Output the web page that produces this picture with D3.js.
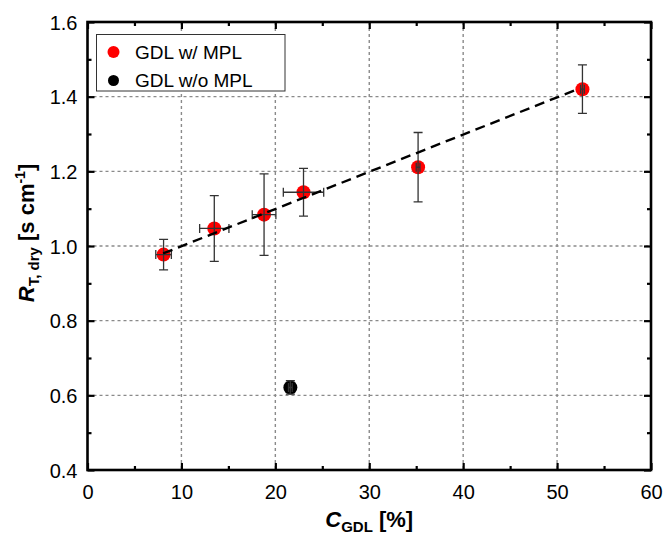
<!DOCTYPE html>
<html>
<head>
<meta charset="utf-8">
<script src="https://cdn.jsdelivr.net/npm/d3@7"></script>
<style>
  html, body { margin: 0; padding: 0; background: #fff; }
  svg { display: block; font-family: "Liberation Sans", Arial, sans-serif; }
</style>
</head>
<body>
<svg id="chart" width="665" height="534"></svg>
<script>
// measured values, GDL with MPL
const withX = [8.1, 13.5, 18.8, 23.0, 35.2, 52.7];
const withY = [0.977, 1.047, 1.084, 1.144, 1.211, 1.42];
const withYErr = [0.041, 0.088, 0.109, 0.064, 0.093, 0.065];
const withXErr = [0.83, 1.56, 1.26, 2.15, 0.2, 0.2];

// GDL without MPL
const woX = [21.6];
const woY = [0.621];
const woYErr = [0.018];
const woXErr = [0.2];

// linear fit through the MPL points
const fitRange = [8.05, 52.2];
const fitIntercept = 0.8997;
const fitSlope = 0.00997;

const xMajor = [0, 10, 20, 30, 40, 50, 60];
const xMinor = [5, 15, 25, 35, 45, 55];
const yMajor = [0.4, 0.6, 0.8, 1.0, 1.2, 1.4, 1.6];
const yMinor = [0.5, 0.7, 0.9, 1.1, 1.3, 1.5];

const legendLabels = ["GDL w/ MPL", "GDL w/o MPL"];
const legendColors = ["#ff0000", "#000000"];

const svg = d3.select("#chart");
const pL = 87.5, pR = 651, pT = 22, pB = 470;

const x = d3.scaleLinear().domain([0, 60]).range([pL, pR]);
const y = d3.scaleLinear().domain([0.4, 1.6]).range([pB, pT]);

// grid
const grid = svg.append("g")
  .attr("stroke", "#8a8a8a")
  .attr("stroke-width", 1.4)
  .attr("stroke-dasharray", "3,3");
grid.selectAll(".vg").data(xMajor.slice(1, -1)).enter().append("line")
  .attr("x1", d => x(d)).attr("x2", d => x(d))
  .attr("y1", pT).attr("y2", pB);
grid.selectAll(".hg").data(yMajor.slice(1, -1)).enter().append("line")
  .attr("x1", pL).attr("x2", pR)
  .attr("y1", d => y(d)).attr("y2", d => y(d));

// axes with inward ticks
function tickAxis(axisFn, scale, values, size, tx, ty, labels) {
  const a = axisFn(scale).tickValues(values).tickSize(-size).tickPadding(10);
  if (!labels) a.tickFormat("");
  else a.tickFormat(d3.format(labels));
  const g = svg.append("g").attr("transform", `translate(${tx},${ty})`).call(a);
  g.select(".domain").remove();
  g.selectAll(".tick line").attr("stroke", "#000").attr("stroke-width", 2.2);
  g.selectAll(".tick text")
    .attr("fill", "#000")
    .style("font-size", "20px")
    .style("font-family", "'Liberation Sans', Arial, sans-serif");
  return g;
}

tickAxis(d3.axisBottom, x, xMajor, 7, 0, pB, "d").selectAll(".tick text").attr("dy", "0.95em");
tickAxis(d3.axisBottom, x, xMinor, 4, 0, pB, null);
tickAxis(d3.axisTop, x, xMajor, 7, 0, pT, null);
tickAxis(d3.axisTop, x, xMinor, 4, 0, pT, null);
tickAxis(d3.axisLeft, y, yMajor, 7, pL, 0, ".1f").selectAll(".tick text").attr("dy", "0.36em");
tickAxis(d3.axisLeft, y, yMinor, 4, pL, 0, null);
tickAxis(d3.axisRight, y, yMajor, 7, pR, 0, null);
tickAxis(d3.axisRight, y, yMinor, 4, pR, 0, null);

svg.append("rect")
  .attr("x", pL).attr("y", pT)
  .attr("width", pR - pL).attr("height", pB - pT)
  .attr("fill", "none").attr("stroke", "#000").attr("stroke-width", 2.6);

// points
const withData = withX.map((v, i) => ({ x: v, y: withY[i], ex: withXErr[i], ey: withYErr[i] }));
const woData = woX.map((v, i) => ({ x: v, y: woY[i], ex: woXErr[i], ey: woYErr[i] }));

function drawPoints(data, color) {
  svg.append("g").selectAll("circle").data(data).enter().append("circle")
    .attr("cx", d => x(d.x)).attr("cy", d => y(d.y))
    .attr("r", 7).attr("fill", color);
}

function drawErrors(data) {
  const g = svg.append("g").attr("stroke", "#333").attr("stroke-width", 1.3).attr("fill", "none");
  const cap = 4.5;
  data.forEach(d => {
    const cx = x(d.x), cy = y(d.y);
    const y0 = y(d.y - d.ey), y1 = y(d.y + d.ey);
    const x0 = x(d.x - d.ex), x1 = x(d.x + d.ex);
    g.append("path").attr("d",
      `M${cx},${y0}V${y1}M${cx - cap},${y0}H${cx + cap}M${cx - cap},${y1}H${cx + cap}` +
      `M${x0},${cy}H${x1}M${x0},${cy - cap}V${cy + cap}M${x1},${cy - cap}V${cy + cap}`);
  });
}

drawPoints(withData, legendColors[0]);
drawPoints(woData, legendColors[1]);
drawErrors(withData);
drawErrors(woData);

// fit line
const line = d3.line().x(d => x(d)).y(d => y(fitIntercept + fitSlope * d));
svg.append("path")
  .attr("d", line(fitRange))
  .attr("fill", "none").attr("stroke", "#000")
  .attr("stroke-width", 2.4).attr("stroke-dasharray", "10,6");

// legend
const lg = svg.append("g");
lg.append("rect")
  .attr("x", 96.5).attr("y", 34.5).attr("width", 188.5).attr("height", 56.5)
  .attr("fill", "#fff").attr("stroke", "#333").attr("stroke-width", 1);
legendLabels.forEach((lab, i) => {
  const cy = 52 + i * 28.5;
  lg.append("circle").attr("cx", 113.5).attr("cy", cy).attr("r", i === 0 ? 6 : 5.5).attr("fill", legendColors[i]);
  lg.append("text").attr("x", 135).attr("y", cy).attr("dy", "0.36em")
    .style("font-size", "19px").text(lab);
});

// axis titles
const xt = svg.append("text")
  .attr("x", (pL + pR) / 2).attr("y", 527)
  .attr("text-anchor", "middle")
  .style("font-size", "22px").style("font-weight", "bold");
xt.append("tspan").style("font-style", "italic").text("C");
xt.append("tspan").attr("dy", 5).style("font-size", "15px").text("GDL");
xt.append("tspan").attr("dy", -5).text(" [%]");

const yt = svg.append("text")
  .attr("transform", `translate(34,233) rotate(-90)`)
  .attr("text-anchor", "middle")
  .style("font-size", "22px").style("font-weight", "bold");
yt.append("tspan").style("font-style", "italic").text("R");
yt.append("tspan").attr("dy", 5).style("font-size", "15px").text("T, dry");
yt.append("tspan").attr("dy", -5).text(" [s cm");
yt.append("tspan").attr("dy", -9).style("font-size", "14px").text("-1");
yt.append("tspan").attr("dy", 9).text("]");
</script>
</body>
</html>
